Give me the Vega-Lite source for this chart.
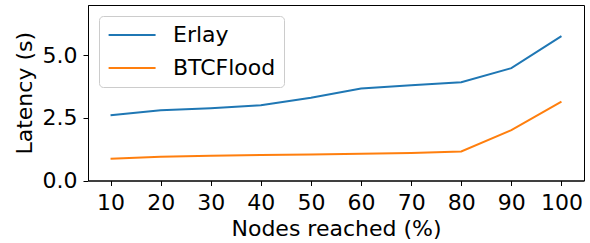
{
  "$schema": "https://vega.github.io/schema/vega-lite/v6.json",
  "autosize": "none",
  "width": 496,
  "height": 175.5,
  "padding": {"left": 88, "top": 5, "right": 6, "bottom": 62.5},
  "background": "white",
  "config": {
    "font": "DejaVu Sans",
    "view": {"stroke": "black", "strokeWidth": 1},
    "axis": {
      "grid": false,
      "domainColor": "black",
      "tickColor": "black",
      "labelColor": "black",
      "titleColor": "black",
      "labelFontSize": 22,
      "titleFontSize": 22,
      "titleFontWeight": "normal",
      "tickSize": 5
    }
  },
  "data": {
    "values": [
      {"nodes": 10, "series": "Erlay", "latency": 2.60},
      {"nodes": 20, "series": "Erlay", "latency": 2.80},
      {"nodes": 30, "series": "Erlay", "latency": 2.88},
      {"nodes": 40, "series": "Erlay", "latency": 3.00},
      {"nodes": 50, "series": "Erlay", "latency": 3.30},
      {"nodes": 60, "series": "Erlay", "latency": 3.67},
      {"nodes": 70, "series": "Erlay", "latency": 3.80},
      {"nodes": 80, "series": "Erlay", "latency": 3.92},
      {"nodes": 90, "series": "Erlay", "latency": 4.48},
      {"nodes": 100, "series": "Erlay", "latency": 5.76},
      {"nodes": 10, "series": "BTCFlood", "latency": 0.87},
      {"nodes": 20, "series": "BTCFlood", "latency": 0.95},
      {"nodes": 30, "series": "BTCFlood", "latency": 0.99},
      {"nodes": 40, "series": "BTCFlood", "latency": 1.02},
      {"nodes": 50, "series": "BTCFlood", "latency": 1.04},
      {"nodes": 60, "series": "BTCFlood", "latency": 1.07},
      {"nodes": 70, "series": "BTCFlood", "latency": 1.10},
      {"nodes": 80, "series": "BTCFlood", "latency": 1.16},
      {"nodes": 90, "series": "BTCFlood", "latency": 2.01},
      {"nodes": 100, "series": "BTCFlood", "latency": 3.15}
    ]
  },
  "mark": {"type": "line", "strokeWidth": 2},
  "encoding": {
    "x": {
      "field": "nodes",
      "type": "quantitative",
      "title": "Nodes reached (%)",
      "scale": {"domain": [5.5, 104.5], "nice": false, "zero": false},
      "axis": {"values": [10, 20, 30, 40, 50, 60, 70, 80, 90, 100], "labelPadding": 7, "titlePadding": 5}
    },
    "y": {
      "field": "latency",
      "type": "quantitative",
      "title": "Latency (s)",
      "scale": {"domain": [0, 7], "nice": false},
      "axis": {"values": [0, 2.5, 5], "format": ".1f", "labelPadding": 6, "titlePadding": 6}
    },
    "color": {
      "field": "series",
      "type": "nominal",
      "title": null,
      "scale": {"domain": ["Erlay", "BTCFlood"], "range": ["#1f77b4", "#ff7f0e"]},
      "legend": {
        "orient": "none",
        "legendX": 11,
        "legendY": 11,
        "symbolType": "M-1,0H4",
        "symbolSize": 353,
        "symbolStrokeWidth": 2,
        "labelFontSize": 22,
        "labelColor": "black",
        "labelOffset": 44,
        "rowPadding": 11,
        "padding": 8,
        "strokeColor": "#cccccc",
        "fillColor": "white",
        "cornerRadius": 4
      }
    }
  }
}
